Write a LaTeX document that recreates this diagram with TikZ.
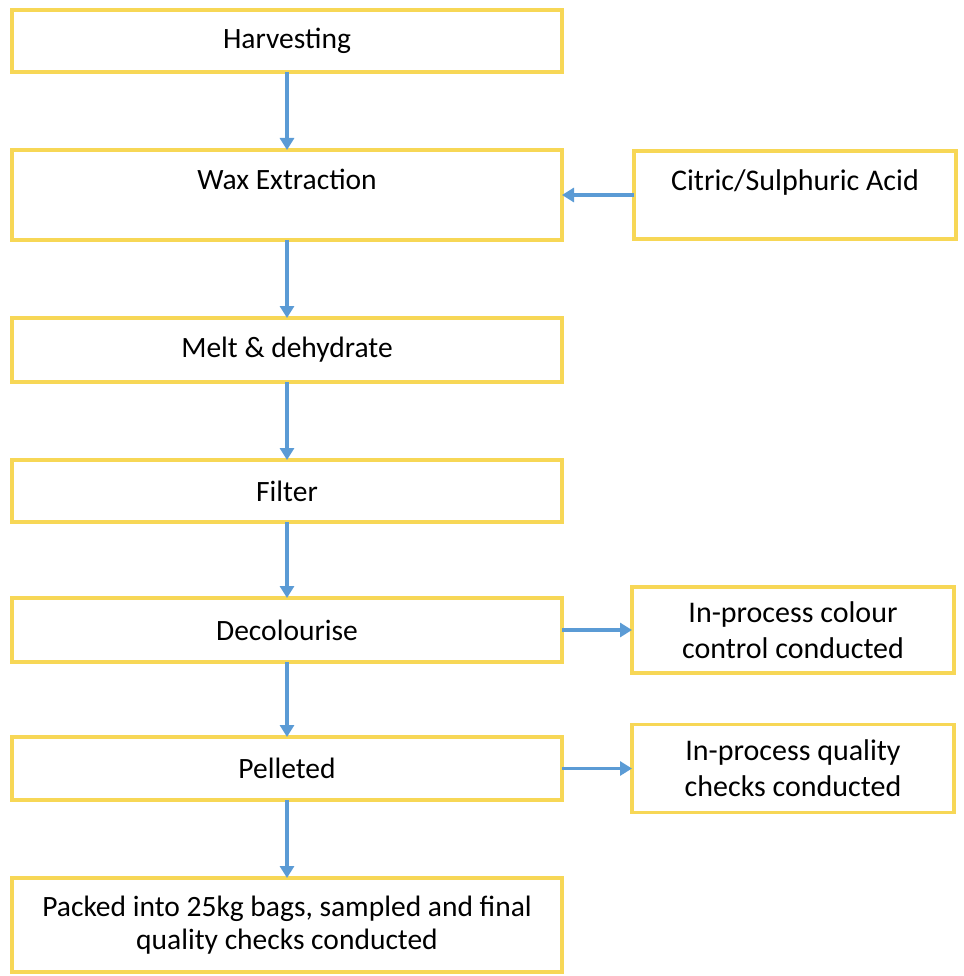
\documentclass[tikz,border=0pt]{standalone}
\usepackage{fontspec}
\setmainfont{Carlito}
\usetikzlibrary{positioning, arrows.meta}

\begin{document}
\begin{tikzpicture}[x=1pt, y=1pt, >={Triangle[width=14pt,length=12pt]}, semithick]
%====Colori===============================================================
	\definecolor{boxyellow}{RGB}{247,215,86}
	\definecolor{arrowblue}{RGB}{91,155,213}
%====Stili===============================================================
	\tikzset{stepbox/.style={rectangle, draw=boxyellow, line width=3.5pt, outer sep=0pt, fill=white, minimum width=550pt, align=center, font=\fontsize{29.5}{33}\selectfont},
		sidebox/.style={stepbox, minimum width=322pt, font=\fontsize{30}{36}\selectfont},
		flow/.style={->, draw=arrowblue, line width=3.5pt}}
	\useasboundingbox (0,0) rectangle (963,-976);
%====Stati e posizione===============================================================
	\node[stepbox, minimum height=62pt]          	(harv) at (287,-41)		{Harvesting};
	\node[stepbox, minimum height=90pt, text depth=32pt]	(wax) [below=78pt of harv]	{Wax Extraction};
	\node[stepbox, minimum height=64pt]		   	(melt) [below=78pt of wax]	{Melt \& dehydrate};
	\node[stepbox, minimum height=62pt]         	(filt) [below=78pt of melt]	{Filter};
	\node[stepbox, minimum height=64pt]          	(deco) [below=76pt of filt]	{Decolourise};
	\node[stepbox, minimum height=63pt]          	(pell) [below=75pt of deco]	{Pelleted};
	\node[stepbox, minimum height=94pt]          	(pack) [below=78pt of pell]	{Packed into 25kg bags, sampled and final\\quality checks conducted};
	\node[sidebox, minimum height=88pt, text depth=30pt]	(acid) [right=72pt of wax]	{Citric/Sulphuric Acid};
	\node[sidebox, minimum height=86pt]          	(colr) [right=70pt of deco]	{In-process colour\\control conducted};
	\node[sidebox, minimum height=88pt]          	(qual) [right=70pt of pell]	{In-process quality\\checks conducted};
%====Collegamenti===============================================================
	%from     stile       to
	\path	(harv)	edge[flow]	(wax)
			(wax)	edge[flow]	(melt)
			(melt)	edge[flow]	(filt)
			(filt)	edge[flow]	(deco)
			(deco)	edge[flow]	(pell)
			(pell)	edge[flow]	(pack)
			(acid)	edge[flow]	(wax)
			(deco)	edge[flow]	(colr)
			(pell)	edge[flow]	(qual);
\end{tikzpicture}
\end{document}
